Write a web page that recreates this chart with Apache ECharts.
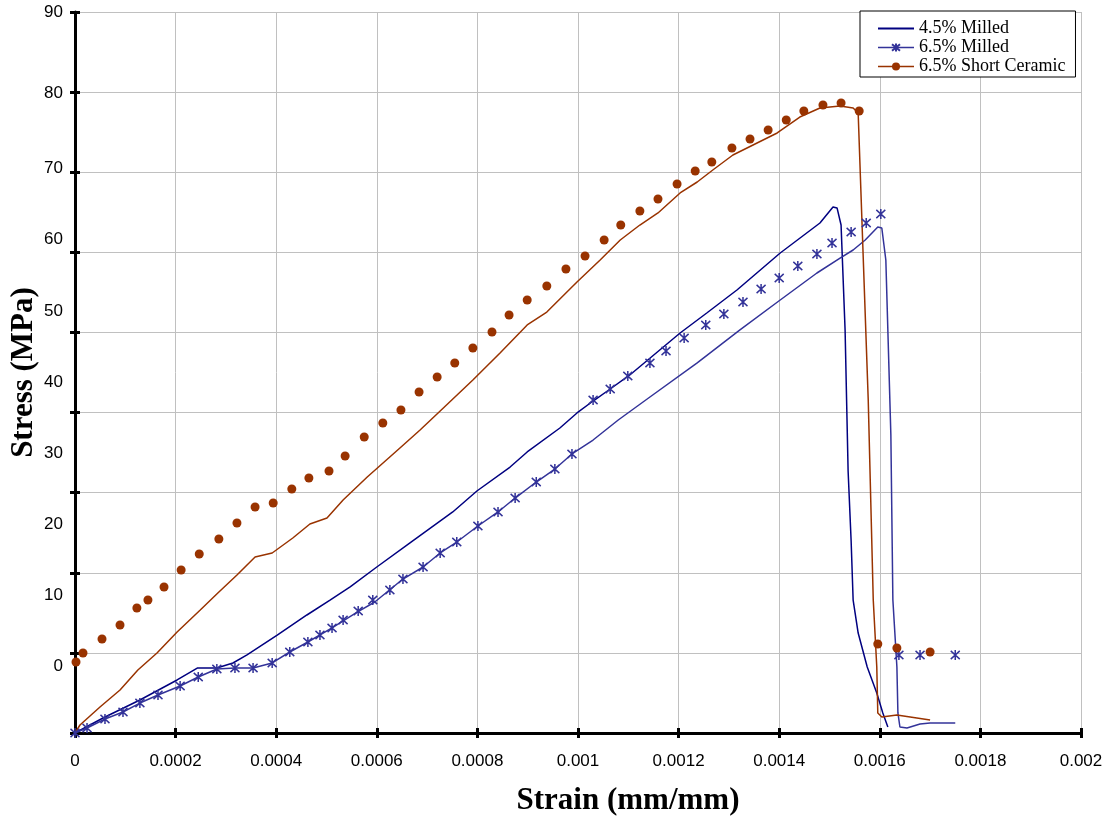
<!DOCTYPE html>
<html>
<head>
<meta charset="utf-8">
<title>Stress - Strain</title>
<script src="https://cdn.jsdelivr.net/npm/echarts@6.0.0/dist/echarts.min.js"></script>
<style>
  html, body { margin: 0; padding: 0; background: #fff; }
  #main { width: 1109px; height: 816px; }
</style>
</head>
<body>
<div id="main"></div>
<script>
// 4.5% Milled (line only)
var strainMilled45 = [0, 0.0000557, 0.000129, 0.000203, 0.000243, 0.000282, 0.000314, 0.000342, 0.000402, 0.000461,
  0.000507, 0.000547, 0.000600, 0.000666, 0.000751, 0.000799, 0.000865, 0.000899, 0.000964, 0.000998,
  0.001030, 0.001064, 0.001103, 0.001203, 0.001256, 0.001316, 0.001402, 0.001481, 0.001507, 0.001515,
  0.001523, 0.001531, 0.001537, 0.001543, 0.001547, 0.001557, 0.001575, 0.001594, 0.001606, 0.001616];
var stressMilled45 = [0, 1.87, 4.12, 6.62, 8.11, 8.11, 8.74, 9.74, 12.23, 14.73,
  16.60, 18.23, 20.72, 23.72, 27.59, 30.21, 33.20, 35.08, 38.07, 39.95,
  41.44, 42.94, 44.69, 49.93, 52.43, 55.30, 59.92, 63.66, 65.66, 65.54,
  63.41, 50.31, 32.70, 23.97, 16.60, 12.48, 8.24, 4.99, 2.50, 0.75];

// 6.5% Milled (curve)
var strainMilled65 = [0, 0.0000239, 0.0000596, 0.0000954, 0.000129, 0.000165, 0.000209, 0.000245, 0.000282, 0.000318,
  0.000354, 0.000392, 0.000427, 0.000463, 0.000511, 0.000561, 0.000596, 0.000652, 0.000692, 0.000726,
  0.000759, 0.000801, 0.000841, 0.000875, 0.000917, 0.000954, 0.000988, 0.001030, 0.001080, 0.001143,
  0.001237, 0.001322, 0.001402, 0.001475, 0.001521, 0.001547, 0.001571, 0.001596, 0.001604, 0.001612,
  0.001622, 0.001626, 0.001634, 0.001636, 0.001640, 0.001654, 0.001680, 0.001700, 0.001750];
var stressMilled65 = [0, 0.62, 1.75, 2.62, 3.74, 4.74, 5.87, 6.99, 7.99, 8.11,
  8.11, 8.74, 10.11, 11.36, 13.11, 15.10, 16.35, 19.22, 20.72, 22.47,
  23.84, 25.84, 27.59, 29.33, 31.33, 32.95, 34.83, 36.57, 39.07, 41.94,
  46.19, 50.31, 54.05, 57.42, 59.29, 60.29, 61.54, 63.16, 63.04, 59.04,
  37.20, 16.60, 8.24, 2.50, 0.75, 0.62, 1.12, 1.25, 1.25];

// 6.5% Milled (asterisk markers)
var strainMarks65 = [0, 0.0000239, 0.0000596, 0.0000954, 0.000129, 0.000165, 0.000209, 0.000245, 0.000282, 0.000318,
  0.000354, 0.000392, 0.000427, 0.000463, 0.000487, 0.000511, 0.000533, 0.000563, 0.000592, 0.000626,
  0.000652, 0.000692, 0.000726, 0.000759, 0.000801, 0.000841, 0.000875, 0.000917, 0.000954, 0.000988,
  0.001030, 0.001064, 0.001099, 0.001143, 0.001175, 0.001211, 0.001254, 0.001290, 0.001328, 0.001364,
  0.001400, 0.001437, 0.001475, 0.001505, 0.001543, 0.001573, 0.001602, 0.001638, 0.001680, 0.001750];
var stressMarks65 = [0, 0.62, 1.75, 2.62, 3.74, 4.74, 5.87, 6.99, 7.99, 8.11,
  8.11, 8.74, 10.11, 11.36, 12.23, 13.11, 14.11, 15.23, 16.60, 17.85,
  19.22, 20.72, 22.47, 23.84, 25.84, 27.59, 29.33, 31.33, 32.95, 34.83,
  41.57, 42.94, 44.56, 46.19, 47.68, 49.31, 50.93, 52.30, 53.80, 55.42,
  56.80, 58.29, 59.79, 61.17, 62.54, 63.66, 64.79, 9.74, 9.74, 9.74];

// 6.5% Short Ceramic (curve)
var strainCeramic = [0, 0.0000099, 0.0000497, 0.0000895, 0.000125, 0.000163, 0.000203, 0.000249, 0.000284, 0.000322,
  0.000358, 0.000392, 0.000433, 0.000467, 0.000501, 0.000533, 0.000581, 0.000646, 0.000686, 0.000726,
  0.000791, 0.000845, 0.000899, 0.000938, 0.000998, 0.001044, 0.001084, 0.001123, 0.001159, 0.001203,
  0.001237, 0.001268, 0.001308, 0.001348, 0.001396, 0.001441, 0.001481, 0.001521, 0.001547, 0.001557,
  0.001567, 0.001577, 0.001587, 0.001594, 0.001596, 0.001604, 0.001634, 0.001700];
var stressCeramic = [0, 1.00, 3.25, 5.37, 7.86, 9.99, 12.61, 15.35, 17.48, 19.72,
  21.97, 22.47, 24.34, 26.09, 26.84, 29.09, 31.96, 35.58, 37.82, 40.19,
  44.06, 47.43, 50.93, 52.55, 56.30, 59.04, 61.54, 63.41, 64.91, 67.41,
  68.78, 70.28, 72.15, 73.40, 74.90, 76.89, 78.02, 78.27, 78.02, 77.39,
  59.42, 41.57, 16.60, 8.24, 2.50, 2.00, 2.25, 1.62];

// 6.5% Short Ceramic (dot markers)
var strainCeramicDots = [0.000002, 0.0000159, 0.0000537, 0.0000895, 0.000123, 0.000145, 0.000177, 0.000211, 0.000247, 0.000286,
  0.000322, 0.000358, 0.000394, 0.000431, 0.000465, 0.000505, 0.000537, 0.000575, 0.000612, 0.000648,
  0.000684, 0.000720, 0.000755, 0.000791, 0.000829, 0.000863, 0.000899, 0.000938, 0.000976, 0.001014,
  0.001052, 0.001085, 0.001123, 0.001159, 0.001197, 0.001233, 0.001266, 0.001306, 0.001342, 0.001378,
  0.001414, 0.001449, 0.001487, 0.001523, 0.001559, 0.001596, 0.001634, 0.001700];
var stressCeramicDots = [8.86, 9.99, 11.73, 13.48, 15.60, 16.60, 18.23, 20.35, 22.34, 24.22,
  26.21, 28.21, 28.71, 30.46, 31.83, 32.71, 34.58, 36.95, 38.70, 40.32,
  42.57, 44.44, 46.19, 48.06, 50.06, 52.18, 54.05, 55.80, 57.92, 59.54,
  61.54, 63.41, 65.16, 66.66, 68.53, 70.15, 71.28, 73.02, 74.15, 75.27,
  76.52, 77.64, 78.39, 78.64, 77.64, 11.11, 10.61, 10.11];

var seriesNames = ['4.5% Milled', '6.5% Milled', '6.5% Short Ceramic'];

var NAVY = '#000080';
var BLUE = '#333399';
var BROWN = '#993300';
var asterisk = 'path://M0 1L10 11M10 1L0 11M5 0L5 12';

function pairs(xs, ys) {
  var out = [];
  for (var i = 0; i < xs.length; i++) {
    out.push([xs[i], ys[i]]);
  }
  return out;
}

// the original's stress labels do not sit exactly on the grid; nudge them like it does
function stressLabel(v) {
  if (v < 0) return '';
  if (v === 90) return '{up|90}';
  if (v === 80) return '{mid|80}';
  return '{low|' + v + '}';
}

var myChart = echarts.init(document.getElementById('main'));

var option = {
  animation: false,
  backgroundColor: '#fff',
  grid: { left: 75, right: 28, top: 12, bottom: 83, outerBoundsMode: 'none', containLabel: false },
  legend: {
    orient: 'vertical',
    left: 860,
    top: 11,
    padding: [8, 10, 1, 17],
    backgroundColor: '#fff',
    borderColor: '#000',
    borderWidth: 1,
    itemWidth: 36,
    itemHeight: 10,
    itemGap: 0,
    selectedMode: false,
    textStyle: { fontFamily: 'Liberation Serif', fontSize: 18, color: '#000', lineHeight: 19 },
    data: [
      { name: seriesNames[0], itemStyle: { color: 'transparent', borderWidth: 0, opacity: 0 } },
      { name: seriesNames[1], lineStyle: { color: BLUE, opacity: 1, width: 1.5 } },
      { name: seriesNames[2], lineStyle: { color: BROWN, opacity: 1, width: 1.5 } }
    ]
  },
  xAxis: [
    {
      type: 'value',
      min: 0,
      max: 0.002,
      interval: 0.0002,
      name: 'Strain (mm/mm)',
      nameLocation: 'middle',
      nameGap: 52,
      nameTextStyle: { fontFamily: 'Liberation Serif', fontWeight: 'bold', fontSize: 31, color: '#000', padding: [0, 0, 0, 100] },
      axisLine: { show: true, onZero: false, lineStyle: { color: '#000', width: 3 } },
      axisTick: { show: true, length: 5, lineStyle: { color: '#000', width: 3 } },
      axisLabel: {
        margin: 20,
        fontFamily: 'Liberation Sans',
        fontSize: 17,
        color: '#000',
        formatter: function (v) { return String(parseFloat(v.toPrecision(6))); }
      },
      splitLine: { show: true, lineStyle: { color: '#c0c0c0', width: 1 } }
    },
    {
      // inner half of the crossing ticks
      type: 'value',
      position: 'bottom',
      min: 0,
      max: 0.002,
      interval: 0.0002,
      axisLine: { show: false, onZero: false },
      axisTick: { show: true, inside: true, length: 5, lineStyle: { color: '#000', width: 3 } },
      axisLabel: { show: false },
      splitLine: { show: false }
    }
  ],
  yAxis: [
    {
      type: 'value',
      min: 0,
      max: 90,
      interval: 10,
      name: 'Stress (MPa)',
      nameLocation: 'middle',
      nameGap: 36,
      nameTextStyle: { fontFamily: 'Liberation Serif', fontWeight: 'bold', fontSize: 31, color: '#000' },
      axisLine: { show: true, onZero: false, lineStyle: { color: '#000', width: 3 } },
      axisTick: { show: true, length: 5, lineStyle: { color: '#000', width: 3 } },
      axisLabel: { show: false },
      splitLine: { show: true, lineStyle: { color: '#c0c0c0', width: 1 } }
    },
    {
      // tick labels of the original sit on their own (shifted) scale
      type: 'value',
      position: 'left',
      min: -10,
      max: 91.4,
      interval: 10,
      axisLine: { show: false, onZero: false },
      axisTick: { show: false },
      splitLine: { show: false },
      axisLabel: {
        margin: 12,
        fontFamily: 'Liberation Sans',
        fontSize: 17,
        color: '#000',
        formatter: stressLabel,
        rich: {
          low: { fontFamily: 'Liberation Sans', fontSize: 17, color: '#000', padding: [9, 0, 0, 0] },
          mid: { fontFamily: 'Liberation Sans', fontSize: 17, color: '#000' },
          up: { fontFamily: 'Liberation Sans', fontSize: 17, color: '#000', padding: [0, 0, 19, 0] }
        }
      }
    },
    {
      type: 'value',
      position: 'left',
      min: 0,
      max: 90,
      interval: 10,
      axisLine: { show: false, onZero: false },
      axisTick: { show: true, inside: true, length: 5, lineStyle: { color: '#000', width: 3 } },
      axisLabel: { show: false },
      splitLine: { show: false }
    }
  ],
  series: [
    {
      name: seriesNames[0],
      type: 'line',
      data: pairs(strainMilled45, stressMilled45),
      symbol: 'none',
      itemStyle: { color: NAVY },
      lineStyle: { color: NAVY, width: 1.5 },
      z: 3
    },
    {
      name: seriesNames[1],
      type: 'line',
      data: pairs(strainMarks65, stressMarks65),
      symbol: asterisk,
      symbolSize: [9, 10],
      itemStyle: { color: 'transparent', borderColor: BLUE, borderWidth: 1.6 },
      lineStyle: { opacity: 0 },
      z: 5
    },
    {
      name: seriesNames[1],
      type: 'line',
      data: pairs(strainMilled65, stressMilled65),
      symbol: 'none',
      itemStyle: { color: BLUE },
      lineStyle: { color: BLUE, width: 1.5 },
      z: 3
    },
    {
      name: seriesNames[2],
      type: 'line',
      data: pairs(strainCeramicDots, stressCeramicDots),
      symbol: 'circle',
      symbolSize: 9,
      itemStyle: { color: BROWN },
      lineStyle: { opacity: 0 },
      z: 5
    },
    {
      name: seriesNames[2],
      type: 'line',
      data: pairs(strainCeramic, stressCeramic),
      symbol: 'none',
      itemStyle: { color: BROWN },
      lineStyle: { color: BROWN, width: 1.5 },
      z: 3
    }
  ]
};

myChart.setOption(option);
</script>
</body>
</html>
